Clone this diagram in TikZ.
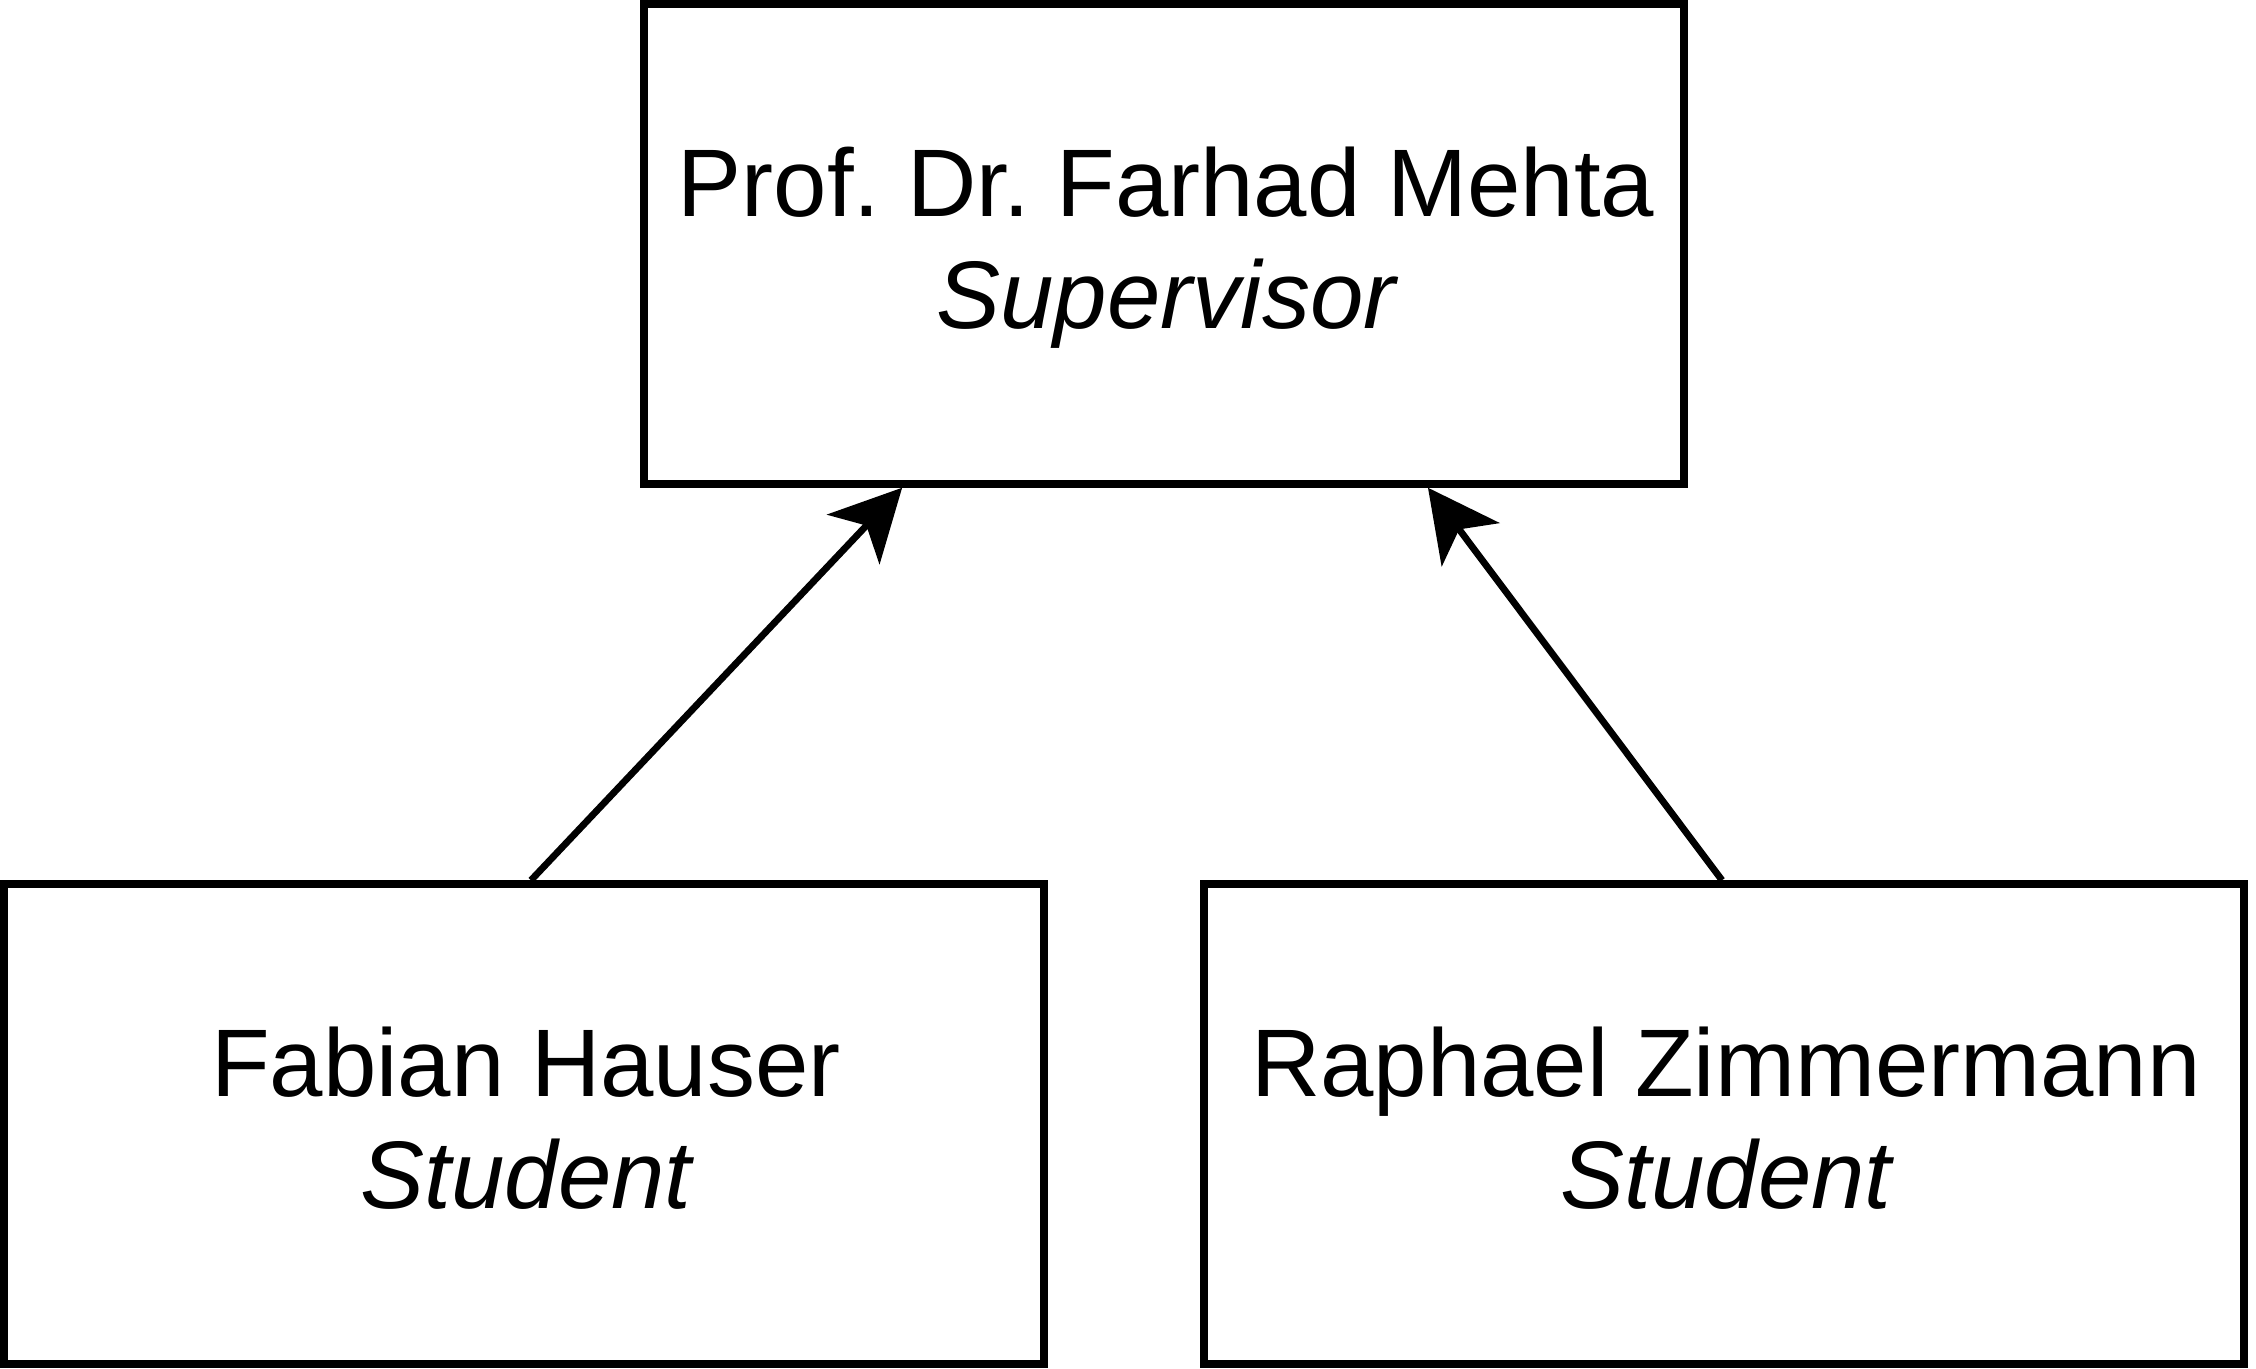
\documentclass[tikz,border=0pt]{standalone}
\usepackage{fontspec}
\setmainfont{Liberation Sans}
\usetikzlibrary{arrows.meta,calc}
\frenchspacing
\begin{document}
\begin{tikzpicture}[x=1pt,y=-1pt,
  box/.style={draw=black, line width=7.5pt, minimum width=1040pt, minimum height=480pt, inner sep=0pt},
  txt/.style={inner sep=0pt, anchor=base, font=\fontsize{96}{112}\selectfont},
  arr/.style={draw=black, line width=6.8pt, -{Stealth[length=71pt,width=72pt,inset=19pt]}}]
\useasboundingbox (0,0) rectangle (2256,1368);
\node[box] (sup) at (1164,244) {};
\node[box] (fab) at (524,1124) {};
\node[box] (raph) at (1724,1124) {};
\node[txt] (supname) at ($(sup.center)+(2,-28)$) {Prof. Dr. Farhad Mehta};
\node[txt] (suprole) at ($(sup.center)+(2,84)$) {\itshape Supervisor};
\node[txt] (fabname) at ($(fab.center)+(2,-28)$) {Fabian Hauser};
\node[txt] (fabrole) at ($(fab.center)+(2,84)$) {\itshape Student};
\node[txt] (raphname) at ($(raph.center)+(2,-28)$) {Raphael Zimmermann};
\node[txt] (raphrole) at ($(raph.center)+(2,84)$) {\itshape Student};
\coordinate (s1) at ($(fab.north)+(7,0)$);
\coordinate (s2) at ($(raph.north)+(-2,0)$);
\coordinate (e1) at ($(sup.south west)!0.25!(sup.south east)$);
\coordinate (e2) at ($(sup.south west)!0.752!(sup.south east)$);
\draw[arr] (s1) -- (e1);
\draw[arr] (s2) -- (e2);
\end{tikzpicture}
\end{document}
